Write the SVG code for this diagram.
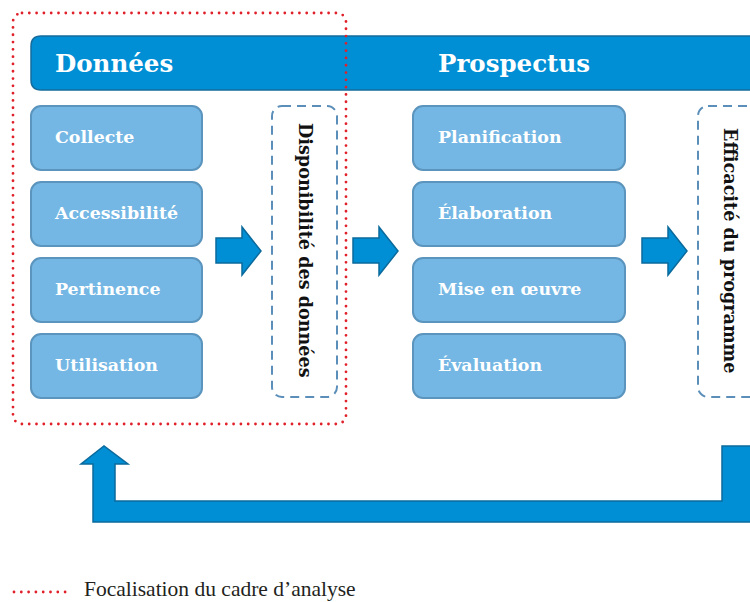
<svg xmlns="http://www.w3.org/2000/svg" width="750" height="602" viewBox="0 0 750 602">
<style>
.hdr{fill:#008fd5;stroke:#156c9c;stroke-width:1.5}
.box{fill:#74b7e4;stroke:#5b94bd;stroke-width:2}
.dash{fill:#ffffff;stroke:#5b8fb9;stroke-width:2;stroke-dasharray:9 6}
.arr{fill:#008fd5;stroke:#0b6a9c;stroke-width:1.5;stroke-linejoin:miter}
.focus{fill:none;stroke:#e0202a;stroke-width:2.8;stroke-dasharray:0 7.3;stroke-linecap:round}
.ht{font-family:"DejaVu Serif","Liberation Serif",serif;font-weight:bold;font-size:24.5px;fill:#ffffff}
.bt{font-family:"DejaVu Serif","Liberation Serif",serif;font-weight:bold;font-size:17.4px;fill:#ffffff}
.vt{font-family:"DejaVu Serif","Liberation Serif",serif;font-weight:bold;font-size:17.6px;fill:#111111}
.lt{font-family:"Liberation Serif",serif;font-size:21.5px;fill:#231f20}
</style>
<rect id="background" x="0" y="0" width="750" height="602" fill="#ffffff"/>
<g id="header">
<path class="hdr" d="M41,36 H762 V90 H41 Q31,90 31,80 V46 Q31,36 41,36 Z"/>
<text class="ht" x="55" y="72">Données</text>
<text class="ht" x="438" y="72">Prospectus</text>
</g>
<g id="collecte"><rect class="box" x="31" y="106" width="171" height="64" rx="10"/><text class="bt" x="55" y="143">Collecte</text></g>
<g id="accessibilite"><rect class="box" x="31" y="182" width="171" height="64" rx="10"/><text class="bt" x="55" y="219">Accessibilité</text></g>
<g id="pertinence"><rect class="box" x="31" y="258" width="171" height="64" rx="10"/><text class="bt" x="55" y="295">Pertinence</text></g>
<g id="utilisation"><rect class="box" x="31" y="334" width="171" height="64" rx="10"/><text class="bt" x="55" y="371">Utilisation</text></g>
<g id="disponibilite"><rect class="dash" x="272" y="106" width="65" height="291" rx="10"/><text class="vt" transform="translate(299,123) rotate(90)">Disponibilité des données</text></g>
<g id="planification"><rect class="box" x="413" y="106" width="212" height="64" rx="10"/><text class="bt" x="438" y="143">Planification</text></g>
<g id="elaboration"><rect class="box" x="413" y="182" width="212" height="64" rx="10"/><text class="bt" x="438" y="219">Élaboration</text></g>
<g id="mise-en-oeuvre"><rect class="box" x="413" y="258" width="212" height="64" rx="10"/><text class="bt" x="438" y="295">Mise en œuvre</text></g>
<g id="evaluation"><rect class="box" x="413" y="334" width="212" height="64" rx="10"/><text class="bt" x="438" y="371">Évaluation</text></g>
<g id="efficacite"><rect class="dash" x="698" y="106" width="70" height="291" rx="10"/><text class="vt" transform="translate(724,128) rotate(90)">Efficacité du programme</text></g>
<g id="connectors">
<path class="arr" d="M216,238 H242 V227 L261,251 L242,275 V263 H216 Z"/>
<path class="arr" d="M353,238 H379 V227 L398,251 L379,275 V263 H353 Z"/>
<path class="arr" d="M642,238 H668 V227 L687,251 L668,275 V263 H642 Z"/>
<path class="arr" d="M722,446 H752 V522 H93 V464 H81 L104,446 L128,464 H115 V501 H722 Z"/>
</g>
<g id="focus-frame">
<rect class="focus" x="13" y="13" width="333" height="411" rx="9"/>
</g>
<g id="legend">
<line class="focus" x1="14" y1="592" x2="72" y2="592"/>
<text class="lt" x="84" y="596">Focalisation du cadre d’analyse</text>
</g>
</svg>
